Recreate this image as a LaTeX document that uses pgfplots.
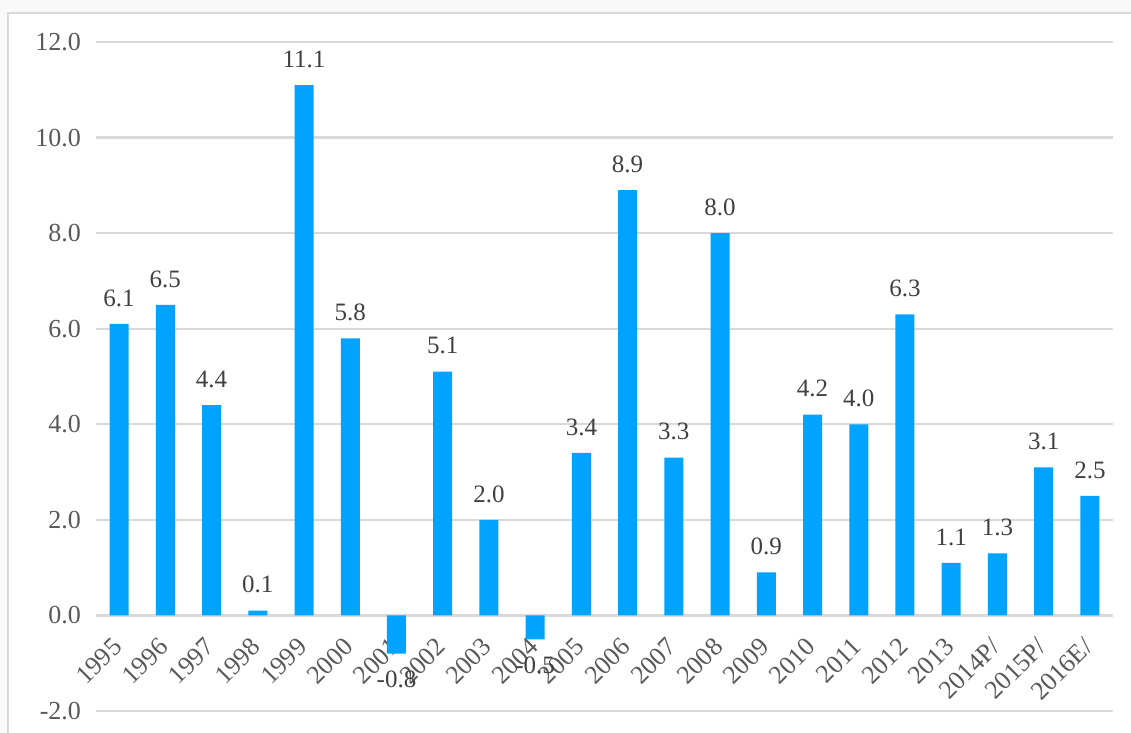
\documentclass[border=0pt]{standalone}
\usepackage{fontspec}
\setmainfont{Liberation Serif}
\usepackage{pgfplots}
\pgfplotsset{compat=1.18}
\definecolor{barblue}{RGB}{0,163,255}
\definecolor{gridgray}{RGB}{217,217,217}
\definecolor{txtgray}{RGB}{89,89,89}
\definecolor{lblgray}{RGB}{64,64,64}
\begin{document}
\begin{tikzpicture}
\path[use as bounding box] (-48bp,-11bp) rectangle (517.5bp,355.5bp);
\fill[gray!5] (-48bp,-11bp) rectangle (517.5bp,355.5bp);
\filldraw[fill=white, draw=gridgray, line width=1.2bp] (-44bp,-30bp) rectangle (530bp,349bp);
\begin{axis}[
    at={(0,0)}, anchor=south west,
    scale only axis,
    width=508.5bp, height=334.5bp,
    ybar, bar width=9.5bp,
    ymin=-2, ymax=12, xmin=-0.5, xmax=21.5,
    ytick={-2,0,...,12},
    xtick=data,
    xticklabels={1995,1996,1997,1998,1999,2000,2001,2002,2003,2004,2005,2006,2007,2008,2009,2010,2011,2012,2013,2014P/,2015P/,2016E/},
    ymajorgrids, grid style={draw=gridgray, line width=1.2bp},
    axis line style={draw=none}, tick style={draw=none},
    /pgf/number format/assume math mode=true,
    x tick label style={yshift=46.5bp, xshift=-4bp, rotate=45, anchor=north east,
        font=\fontsize{13bp}{15bp}\selectfont, text=txtgray},
    y tick label style={font=\fontsize{13bp}{15bp}\selectfont, text=txtgray, xshift=-4bp,
        /pgf/number format/.cd, fixed, fixed zerofill, precision=1},
    nodes near coords,
    nodes near coords style={font=\fontsize{12.5bp}{15bp}\selectfont, text=lblgray, inner ysep=8.5bp,
        /pgf/number format/.cd, fixed, fixed zerofill, precision=1},
  ]
  \addplot[fill=barblue, draw=none] coordinates {
    (0,6.1) (1,6.5) (2,4.4) (3,0.1) (4,11.1) (5,5.8) (6,-0.8) (7,5.1)
    (8,2.0) (9,-0.5) (10,3.4) (11,8.9) (12,3.3) (13,8.0) (14,0.9) (15,4.2)
    (16,4.0) (17,6.3) (18,1.1) (19,1.3) (20,3.1) (21,2.5)
  };
\end{axis}
\end{tikzpicture}
\end{document}
